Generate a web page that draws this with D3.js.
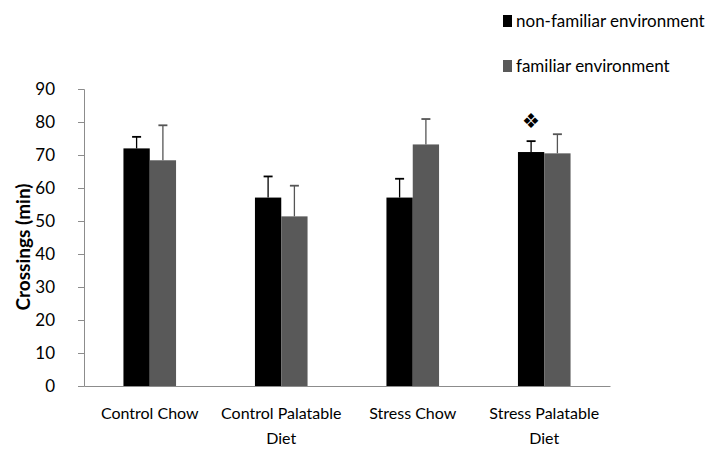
<!DOCTYPE html>
<html>
<head>
<meta charset="utf-8">
<script src="https://cdn.jsdelivr.net/npm/d3@7"></script>
<style>
  html, body { margin: 0; padding: 0; background: #fff; }
  svg { display: block; }
  text { font-family: Lato, "Open Sans", sans-serif; fill: #000; }
</style>
</head>
<body>
<svg id="chart" width="717" height="454"></svg>
<script>
// ---- data ----
const categories = [["Control Chow"], ["Control Palatable", "Diet"], ["Stress Chow"], ["Stress Palatable", "Diet"]];
const seriesNames = ["non-familiar environment", "familiar environment"];
const nonFamiliar = [72.0, 57.1, 57.1, 70.9];
const nonFamiliarErr = [3.5, 6.4, 5.7, 3.3];
const familiar = [68.4, 51.4, 73.2, 70.5];
const familiarErr = [10.6, 9.3, 7.7, 5.8];
const yTicks = [0, 10, 20, 30, 40, 50, 60, 70, 80, 90];
const yTitle = "Crossings (min)";
const markerCategory = 3; // ❖ above Stress Palatable non-familiar bar

// ---- layout ----
const colors = ["#000000", "#595959"];
const errColors = ["#000000", "#555555"];
const plot = { left: 84, right: 610, top: 89, bottom: 386 };

const svg = d3.select("#chart");

const x0 = d3.scaleBand()
  .domain(d3.range(categories.length))
  .range([plot.left, plot.right])
  .paddingInner(0.6)
  .paddingOuter(0.3);
const x1 = d3.scaleBand()
  .domain([0, 1])
  .range([0, x0.bandwidth()]);
const y = d3.scaleLinear().domain([0, 90]).range([plot.bottom, plot.top]);

// y axis
const yAxis = svg.append("g")
  .attr("transform", `translate(${plot.left},0)`)
  .call(d3.axisLeft(y).tickValues(yTicks).tickSize(6).tickPadding(23));
yAxis.select(".domain").attr("stroke", "#8c8c8c").attr("stroke-width", 1);
yAxis.selectAll(".tick line").attr("stroke", "#8c8c8c");
yAxis.selectAll(".tick text")
  .attr("font-family", "Lato, sans-serif")
  .attr("font-size", 17)
  .attr("fill", "#000");

// x axis line
const xAxis = svg.append("g")
  .attr("transform", `translate(0,${plot.bottom})`)
  .call(d3.axisBottom(x0).tickSize(0).tickFormat(""));
xAxis.select(".domain").attr("stroke", "#8c8c8c").attr("stroke-width", 1);

// category labels
categories.forEach((lines, i) => {
  const t = svg.append("text")
    .attr("text-anchor", "middle")
    .attr("font-size", 16)
    .attr("x", x0(i) + x0.bandwidth() / 2)
    .attr("y", 419);
  lines.forEach((ln, k) => {
    t.append("tspan")
      .attr("x", x0(i) + x0.bandwidth() / 2)
      .attr("dy", k === 0 ? 0 : 25)
      .text(ln);
  });
});

// y title
svg.append("text")
  .attr("transform", `translate(30,247) rotate(-90)`)
  .attr("text-anchor", "middle")
  .attr("font-weight", "bold")
  .attr("font-size", 19)
  .text(yTitle);

// bars
const series = [
  { name: seriesNames[0], values: nonFamiliar, errs: nonFamiliarErr },
  { name: seriesNames[1], values: familiar, errs: familiarErr }
];
series.forEach((s, si) => {
  const g = svg.append("g");
  s.values.forEach((v, i) => {
    const cx = x0(i) + x1(si) + x1.bandwidth() / 2;
    g.append("line")
      .attr("x1", cx).attr("x2", cx)
      .attr("y1", y(v)).attr("y2", y(v + s.errs[i]))
      .attr("stroke", errColors[si]).attr("stroke-width", 1.3);
    g.append("line")
      .attr("x1", cx - 4.5).attr("x2", cx + 4.5)
      .attr("y1", y(v + s.errs[i])).attr("y2", y(v + s.errs[i]))
      .attr("stroke", errColors[si]).attr("stroke-width", 1.8);
  });
  g.selectAll("rect")
    .data(s.values)
    .join("rect")
    .attr("x", (d, i) => x0(i) + x1(si))
    .attr("y", d => y(d))
    .attr("width", x1.bandwidth())
    .attr("height", d => y(0) - y(d))
    .attr("fill", colors[si]);
});

// significance marker
{
  const v = nonFamiliar[markerCategory] + nonFamiliarErr[markerCategory];
  svg.append("text")
    .attr("x", x0(markerCategory) + x1(0) + x1.bandwidth() / 2)
    .attr("y", y(v) - 13)
    .attr("text-anchor", "middle")
    .attr("font-family", "DejaVu Sans")
    .attr("font-size", 20)
    .text("❖");
}

// legend
const legend = svg.append("g");
seriesNames.forEach((name, i) => {
  const ly = 21 + i * 45;
  legend.append("rect")
    .attr("x", 503).attr("y", ly - 6)
    .attr("width", 9).attr("height", 12)
    .attr("fill", colors[i]);
  legend.append("text")
    .attr("x", 516).attr("y", ly + 6)
    .attr("font-size", 17)
    .text(name);
});
</script>
</body>
</html>
